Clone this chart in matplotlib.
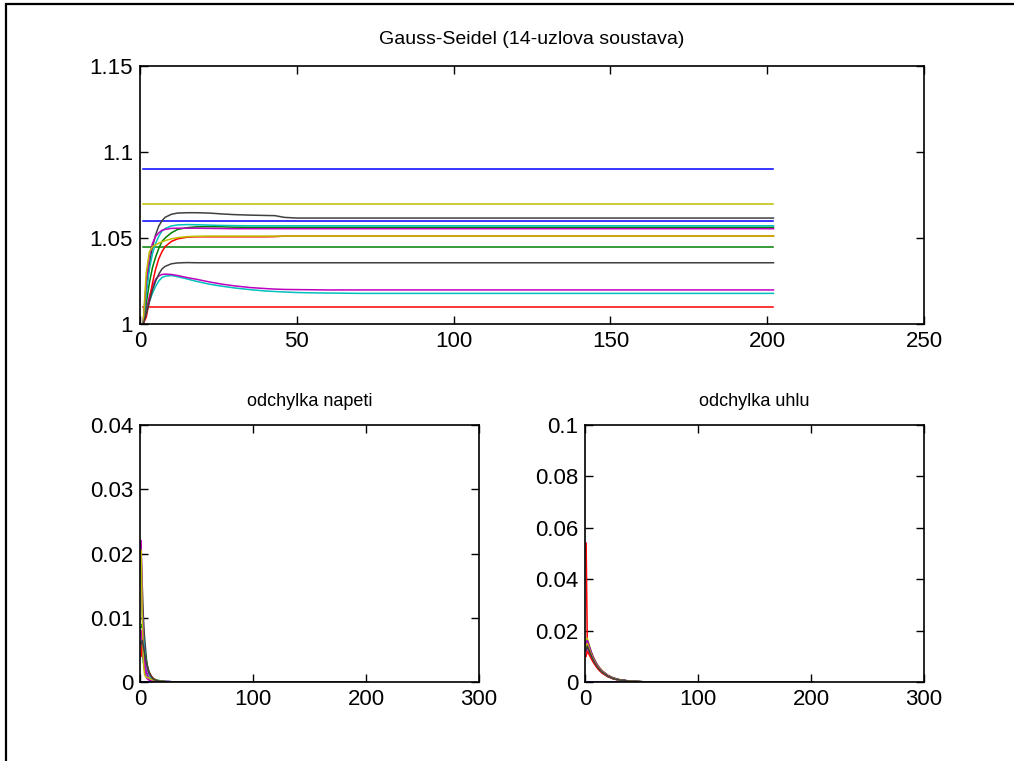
import matplotlib
matplotlib.use("Agg")
import matplotlib.pyplot as plt
from matplotlib.patches import Rectangle

plt.rcParams['font.family'] = ['Liberation Sans', 'DejaVu Sans']

# barvy jako v MATLABu (b, g, r, c, m, y, k)
barvy = ['#0000ff', '#008000', '#ff0000', '#00bfbf', '#bf00bf', '#bfbf00', '#404040']

# napeti uzlu v jednotlivych iteracich
it_v = [1, 2, 3, 4, 5, 6, 7, 8, 10, 12, 15, 18, 22, 26, 30, 35, 40, 43, 46, 50, 55, 60, 70, 80, 100, 150, 202]
n = len(it_v)
V = [
    [1.060] * n,
    [1.045] * n,
    [1.010] * n,
    [1.000, 1.006, 1.013, 1.018, 1.022, 1.025, 1.027, 1.0278, 1.0282, 1.0275, 1.0262, 1.0248, 1.0232, 1.0220,
     1.0210, 1.0200, 1.0192, 1.0189, 1.0186, 1.0183, 1.0181, 1.0180, 1.0178, 1.0178, 1.0178, 1.0178, 1.0178],
    [1.000, 1.008, 1.016, 1.022, 1.026, 1.028, 1.0288, 1.029, 1.0288, 1.0282, 1.0270, 1.0260, 1.0245, 1.0232,
     1.0222, 1.0212, 1.0206, 1.0203, 1.0201, 1.0200, 1.0199, 1.0198, 1.0198, 1.0198, 1.0198, 1.0198, 1.0198],
    [1.070] * n,
    [1.000, 1.020, 1.035, 1.045, 1.052, 1.057, 1.060, 1.062, 1.0638, 1.0645, 1.0647, 1.0647, 1.0645, 1.0640,
     1.0636, 1.0633, 1.0631, 1.0630, 1.0620, 1.0616, 1.0616, 1.0616, 1.0616, 1.0616, 1.0616, 1.0616, 1.0616],
    [1.090] * n,
    [1.000, 1.012, 1.024, 1.033, 1.039, 1.044, 1.048, 1.050, 1.053, 1.0550, 1.0560, 1.0565, 1.0566, 1.0565,
     1.0563, 1.0562, 1.0562, 1.0562, 1.0562, 1.0562, 1.0562, 1.0562, 1.0562, 1.0562, 1.0562, 1.0562, 1.0562],
    [1.000, 1.004, 1.014, 1.024, 1.032, 1.038, 1.042, 1.045, 1.048, 1.0495, 1.0505, 1.0507, 1.0507, 1.0507,
     1.0507, 1.0507, 1.0507, 1.0508, 1.0511, 1.0511, 1.0511, 1.0511, 1.0511, 1.0511, 1.0511, 1.0511, 1.0511],
    [1.000, 1.018, 1.032, 1.041, 1.047, 1.051, 1.054, 1.0555, 1.057, 1.0576, 1.0578, 1.0577, 1.0575, 1.0573,
     1.0572, 1.0571, 1.0571, 1.0571, 1.0571, 1.0571, 1.0571, 1.0571, 1.0571, 1.0571, 1.0571, 1.0571, 1.0571],
    [1.000, 1.025, 1.040, 1.047, 1.051, 1.053, 1.0545, 1.055, 1.0556, 1.0557, 1.0557, 1.0557, 1.0556, 1.0555,
     1.0554, 1.0554, 1.0554, 1.0554, 1.0554, 1.0554, 1.0554, 1.0554, 1.0554, 1.0554, 1.0554, 1.0554, 1.0554],
    [1.000, 1.030, 1.042, 1.045, 1.046, 1.047, 1.0478, 1.0485, 1.0495, 1.0502, 1.0508, 1.0510, 1.0511, 1.0511,
     1.0511, 1.0511, 1.0511, 1.0511, 1.0511, 1.0511, 1.0511, 1.0511, 1.0511, 1.0511, 1.0511, 1.0511, 1.0511],
    [1.000, 1.006, 1.013, 1.020, 1.025, 1.029, 1.032, 1.0335, 1.035, 1.0355, 1.0357, 1.0356, 1.0356, 1.0356,
     1.0356, 1.0356, 1.0356, 1.0356, 1.0356, 1.0356, 1.0356, 1.0356, 1.0356, 1.0356, 1.0356, 1.0356, 1.0356],
]

# odchylky napeti a uhlu
it_d = [1, 2, 3, 4, 5, 6, 7, 8, 10, 12, 15, 20, 25, 30, 40, 50, 70, 100, 150, 202]
m = len(it_d)
dV = [
    [0.0] * m,
    [0.0] * m,
    [0.0] * m,
    [0.0060, 0.0045, 0.0030, 0.0022, 0.0016, 0.0011, 0.0008, 0.0006, 0.0004, 0.0003, 0.0002, 0.0001, 0.0001, 0.0, 0.0, 0.0, 0.0, 0.0, 0.0, 0.0],
    [0.0080, 0.0060, 0.0035, 0.0020, 0.0010, 0.0006, 0.0004, 0.0003, 0.0002, 0.0002, 0.0001, 0.0001, 0.0001, 0.0, 0.0, 0.0, 0.0, 0.0, 0.0, 0.0],
    [0.0] * m,
    [0.0200, 0.0150, 0.0100, 0.0070, 0.0050, 0.0030, 0.0020, 0.0015, 0.0008, 0.0004, 0.0002, 0.0001, 0.0, 0.0, 0.0, 0.0, 0.0, 0.0, 0.0, 0.0],
    [0.0] * m,
    [0.0085, 0.0090, 0.0070, 0.0050, 0.0040, 0.0030, 0.0022, 0.0016, 0.0009, 0.0005, 0.0003, 0.0001, 0.0, 0.0, 0.0, 0.0, 0.0, 0.0, 0.0, 0.0],
    [0.0040, 0.0060, 0.0055, 0.0045, 0.0035, 0.0027, 0.0020, 0.0015, 0.0009, 0.0005, 0.0002, 0.0001, 0.0, 0.0, 0.0, 0.0, 0.0, 0.0, 0.0, 0.0],
    [0.0180, 0.0110, 0.0070, 0.0050, 0.0035, 0.0025, 0.0017, 0.0012, 0.0006, 0.0003, 0.0002, 0.0001, 0.0, 0.0, 0.0, 0.0, 0.0, 0.0, 0.0, 0.0],
    [0.0220, 0.0120, 0.0060, 0.0035, 0.0022, 0.0015, 0.0010, 0.0006, 0.0003, 0.0002, 0.0001, 0.0, 0.0, 0.0, 0.0, 0.0, 0.0, 0.0, 0.0, 0.0],
    [0.0205, 0.0100, 0.0030, 0.0012, 0.0008, 0.0007, 0.0007, 0.0006, 0.0004, 0.0003, 0.0002, 0.0001, 0.0, 0.0, 0.0, 0.0, 0.0, 0.0, 0.0, 0.0],
    [0.0060, 0.0065, 0.0055, 0.0045, 0.0035, 0.0027, 0.0020, 0.0014, 0.0008, 0.0004, 0.0002, 0.0001, 0.0, 0.0, 0.0, 0.0, 0.0, 0.0, 0.0, 0.0],
]
dA = [
    [0.0] * m,
    [0.0150, 0.0140, 0.0128, 0.0116, 0.0105, 0.0095, 0.0086, 0.0078, 0.0063, 0.0051, 0.0037, 0.0022, 0.0013, 0.0008, 0.0003, 0.0001, 0.0, 0.0, 0.0, 0.0],
    [0.0540, 0.0160, 0.0145, 0.0130, 0.0118, 0.0106, 0.0095, 0.0086, 0.0070, 0.0057, 0.0042, 0.0025, 0.0015, 0.0009, 0.0003, 0.0001, 0.0, 0.0, 0.0, 0.0],
    [0.0150, 0.0150, 0.0138, 0.0125, 0.0113, 0.0102, 0.0092, 0.0083, 0.0068, 0.0055, 0.0040, 0.0024, 0.0014, 0.0008, 0.0003, 0.0001, 0.0, 0.0, 0.0, 0.0],
    [0.0120, 0.0135, 0.0125, 0.0115, 0.0104, 0.0094, 0.0085, 0.0077, 0.0063, 0.0051, 0.0037, 0.0022, 0.0013, 0.0008, 0.0003, 0.0001, 0.0, 0.0, 0.0, 0.0],
    [0.0160, 0.0170, 0.0155, 0.0140, 0.0126, 0.0113, 0.0102, 0.0092, 0.0075, 0.0061, 0.0045, 0.0027, 0.0016, 0.0010, 0.0003, 0.0001, 0.0, 0.0, 0.0, 0.0],
    [0.0140, 0.0155, 0.0142, 0.0129, 0.0117, 0.0105, 0.0095, 0.0086, 0.0070, 0.0057, 0.0042, 0.0025, 0.0015, 0.0009, 0.0003, 0.0001, 0.0, 0.0, 0.0, 0.0],
    [0.0150, 0.0160, 0.0147, 0.0134, 0.0121, 0.0109, 0.0098, 0.0089, 0.0072, 0.0059, 0.0043, 0.0026, 0.0015, 0.0009, 0.0003, 0.0001, 0.0, 0.0, 0.0, 0.0],
    [0.0140, 0.0150, 0.0138, 0.0126, 0.0114, 0.0103, 0.0093, 0.0084, 0.0068, 0.0056, 0.0041, 0.0024, 0.0014, 0.0008, 0.0003, 0.0001, 0.0, 0.0, 0.0, 0.0],
    [0.0100, 0.0120, 0.0112, 0.0104, 0.0095, 0.0087, 0.0079, 0.0072, 0.0059, 0.0048, 0.0035, 0.0021, 0.0012, 0.0007, 0.0002, 0.0001, 0.0, 0.0, 0.0, 0.0],
    [0.0130, 0.0145, 0.0134, 0.0123, 0.0112, 0.0101, 0.0091, 0.0082, 0.0067, 0.0055, 0.0040, 0.0024, 0.0014, 0.0008, 0.0003, 0.0001, 0.0, 0.0, 0.0, 0.0],
    [0.0145, 0.0160, 0.0147, 0.0134, 0.0121, 0.0109, 0.0098, 0.0089, 0.0072, 0.0059, 0.0043, 0.0026, 0.0015, 0.0009, 0.0003, 0.0001, 0.0, 0.0, 0.0, 0.0],
    [0.0135, 0.0150, 0.0138, 0.0126, 0.0114, 0.0103, 0.0093, 0.0084, 0.0068, 0.0056, 0.0041, 0.0024, 0.0014, 0.0008, 0.0003, 0.0001, 0.0, 0.0, 0.0, 0.0],
    [0.0125, 0.0140, 0.0130, 0.0119, 0.0108, 0.0098, 0.0088, 0.0080, 0.0065, 0.0053, 0.0039, 0.0023, 0.0013, 0.0008, 0.0003, 0.0001, 0.0, 0.0, 0.0, 0.0],
]

fig = plt.figure(figsize=(10.14, 7.61), dpi=100)
fig.patches.append(Rectangle((6 / 1014, -0.05), 1.1, 1.05 - 4 / 761, transform=fig.transFigure,
                             fill=False, edgecolor='black', linewidth=1.6))

ax1 = fig.add_axes([140 / 1014, 1 - 324 / 761, 784 / 1014, 258 / 761])
ax2 = fig.add_axes([140 / 1014, 1 - 682 / 761, 339 / 1014, 257 / 761])
ax3 = fig.add_axes([585 / 1014, 1 - 682 / 761, 339 / 1014, 257 / 761])

for i, rada in enumerate(V):
    ax1.plot(it_v, rada, color=barvy[i % 7], linewidth=1.1)
for i, rada in enumerate(dV):
    ax2.plot(it_d, rada, color=barvy[i % 7], linewidth=1.1)
for i, rada in enumerate(dA):
    ax3.plot(it_d, rada, color=barvy[i % 7], linewidth=1.1)

ax1.set_xlim(0, 250)
ax1.set_ylim(1, 1.15)
ax1.set_xticks([0, 50, 100, 150, 200, 250])
ax1.set_yticks([1, 1.05, 1.1, 1.15])
ax1.set_yticklabels(['1', '1.05', '1.1', '1.15'])
ax1.set_title('Gauss-Seidel (14-uzlova soustava)', fontsize=14, pad=16)

ax2.set_xlim(0, 300)
ax2.set_ylim(0, 0.04)
ax2.set_xticks([0, 100, 200, 300])
ax2.set_yticks([0, 0.01, 0.02, 0.03, 0.04])
ax2.set_yticklabels(['0', '0.01', '0.02', '0.03', '0.04'])
ax2.set_title('odchylka napeti', fontsize=13, pad=14)

ax3.set_xlim(0, 300)
ax3.set_ylim(0, 0.1)
ax3.set_xticks([0, 100, 200, 300])
ax3.set_yticks([0, 0.02, 0.04, 0.06, 0.08, 0.1])
ax3.set_yticklabels(['0', '0.02', '0.04', '0.06', '0.08', '0.1'])
ax3.set_title('odchylka uhlu', fontsize=13, pad=14)

for ax in (ax1, ax2, ax3):
    ax.tick_params(direction='in', length=6, width=1.0, top=True, right=True,
                   labelsize=16, pad=5, colors='black')
    for s in ax.spines.values():
        s.set_linewidth(1.2)

fig.savefig('out.png', dpi=100)
